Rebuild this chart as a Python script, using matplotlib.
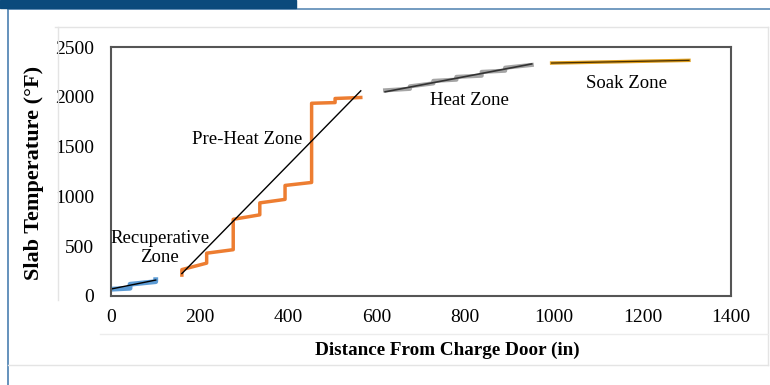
import matplotlib.pyplot as plt
import matplotlib
from matplotlib.lines import Line2D
from matplotlib.patches import Rectangle

matplotlib.rcParams['font.family'] = ['Liberation Serif', 'DejaVu Serif']
matplotlib.rcParams['font.size'] = 13.5

# zone data (distance in, temperature F)
recup_x = [0, 43, 43, 101, 101]
recup_y = [68, 78, 118, 144, 188]
recup_trend_x = [0, 101]
recup_trend_y = [70, 160]

preheat_x = [160, 160, 216, 216, 276, 276, 336, 336, 393, 393, 453, 453, 506, 506, 564]
preheat_y = [210, 265, 330, 430, 465, 770, 815, 935, 970, 1110, 1140, 1935, 1942, 1983, 1993]
preheat_trend_x = [160, 564]
preheat_trend_y = [225, 2060]

heat_x = [619, 675, 675, 728, 728, 780, 780, 837, 837, 890, 890, 950]
heat_y = [2065, 2080, 2105, 2135, 2160, 2172, 2200, 2212, 2250, 2262, 2292, 2320]
heat_trend_x = [619, 950]
heat_trend_y = [2050, 2330]

soak_x = [995, 1305]
soak_y = [2339, 2366]

fig = plt.figure(figsize=(7.7, 3.85), dpi=100)
W, H = 770, 385

# page decorations
fig.patches.append(Rectangle((0, 1 - 8 / H), 296 / W, 8 / H, transform=fig.transFigure,
                             color='#0b4a7c', zorder=0))
def fline(xs, ys, c, lw=1.0):
    fig.lines.append(Line2D([x / W for x in xs], [1 - y / H for y in ys],
                            transform=fig.transFigure, color=c, lw=lw, zorder=0))
fline([8, 770], [8.7, 8.7], '#5b8ab5', 1.2)
fline([8, 8], [8.7, 385], '#4a7fb0', 1.2)
fline([55, 768], [27, 27], '#e4e4e4')
fline([768, 768], [27, 365], '#e4e4e4')
fline([8, 768], [365, 365], '#e4e4e4')
fline([58, 58], [27, 300], '#e4e4e4')
fline([100, 768], [334, 334], '#ececec')

ax = fig.add_axes([111 / W, 1 - 296 / H, 620 / W, 249 / H])

ax.plot(recup_x, recup_y, color='#5b9bd5', lw=3.5, solid_capstyle='butt')
ax.plot(recup_trend_x, recup_trend_y, color='black', lw=1)
ax.plot(preheat_x, preheat_y, color='#ed7d31', lw=2.5)
ax.plot(preheat_trend_x, preheat_trend_y, color='black', lw=1)
ax.plot(heat_x, heat_y, color='#a5a5a5', lw=3)
ax.plot(heat_trend_x, heat_trend_y, color='#333333', lw=1.2)
ax.plot(soak_x, soak_y, color='#e0a020', lw=2.5)
ax.plot(soak_x, soak_y, color='#4a3000', lw=0.9)

ax.text(110, 484, 'Recuperative\nZone', ha='center', va='center', linespacing=1.15)
ax.text(307, 1572, 'Pre-Heat Zone', ha='center', va='center')
ax.text(810, 1966, 'Heat Zone', ha='center', va='center')
ax.text(1165, 2137, 'Soak Zone', ha='center', va='center')

ax.set_xlim(0, 1400)
ax.set_ylim(0, 2500)
ax.set_xticks(range(0, 1401, 200))
ax.set_yticks(range(0, 2501, 500))
ax.tick_params(length=0, labelsize=14)
ax.tick_params(axis='y', pad=12)
ax.tick_params(axis='x', pad=9)
for s in ax.spines.values():
    s.set_color('#555555')
    s.set_linewidth(1.5)

ax.set_xlabel('Distance From Charge Door (in)', fontweight='bold', fontsize=13.8)
ax.xaxis.set_label_coords((447 - 111) / 620, -(350 - 296) / 249)
ax.xaxis.label.set_va('center')
ax.set_ylabel('Slab Temperature (°F)', fontweight='bold', fontsize=16)
ax.yaxis.set_label_coords(-(111 - 34) / 620, (296 - 173) / 249)
ax.yaxis.label.set_va('center')

fig.savefig('out.png', dpi=100)
